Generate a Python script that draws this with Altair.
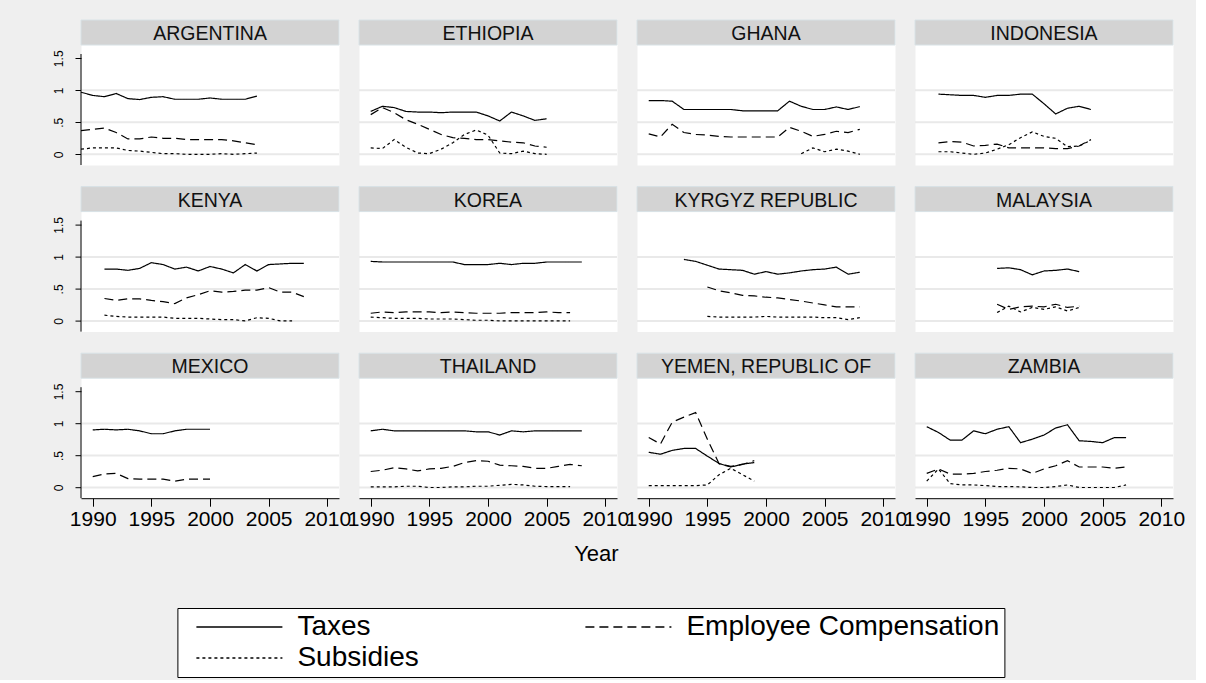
import altair as alt
import pandas as pd

COUNTRIES = [
    "ARGENTINA", "ETHIOPIA", "GHANA", "INDONESIA",
    "KENYA", "KOREA", "KYRGYZ REPUBLIC", "MALAYSIA",
    "MEXICO", "THAILAND", "YEMEN, REPUBLIC OF", "ZAMBIA",
]
SERIES = ["Taxes", "Employee Compensation", "Subsidies"]
X_TICKS = [1990, 1995, 2000, 2005, 2010]
Y_TICKS = [0, 0.5, 1, 1.5]
GRID_VALUES = [0, 0.5, 1]

# (first year, annual values)
TAXES = {
    "ARGENTINA": (1989, [0.97, 0.92, 0.90, 0.95, 0.87, 0.855, 0.89, 0.90, 0.86, 0.86, 0.86, 0.88, 0.86, 0.86, 0.86, 0.91]),
    "ETHIOPIA": (1990, [0.67, 0.75, 0.73, 0.67, 0.66, 0.66, 0.65, 0.66, 0.66, 0.66, 0.60, 0.52, 0.66, 0.60, 0.53, 0.555]),
    "GHANA": (1990, [0.84, 0.84, 0.83, 0.70, 0.70, 0.70, 0.70, 0.70, 0.68, 0.68, 0.68, 0.68, 0.83, 0.75, 0.70, 0.70, 0.74, 0.70, 0.745]),
    "INDONESIA": (1991, [0.94, 0.93, 0.92, 0.92, 0.89, 0.92, 0.92, 0.94, 0.94, 0.79, 0.63, 0.72, 0.75, 0.70]),
    "KENYA": (1991, [0.81, 0.81, 0.79, 0.82, 0.91, 0.88, 0.81, 0.84, 0.78, 0.85, 0.81, 0.75, 0.88, 0.78, 0.88, 0.89, 0.90, 0.90]),
    "KOREA": (1990, [0.93, 0.92, 0.92, 0.92, 0.92, 0.92, 0.92, 0.92, 0.88, 0.88, 0.88, 0.90, 0.88, 0.90, 0.90, 0.92, 0.92, 0.92, 0.92]),
    "KYRGYZ REPUBLIC": (1993, [0.96, 0.93, 0.87, 0.81, 0.80, 0.79, 0.73, 0.77, 0.73, 0.75, 0.78, 0.80, 0.81, 0.84, 0.73, 0.76]),
    "MALAYSIA": (1996, [0.82, 0.83, 0.80, 0.72, 0.78, 0.79, 0.81, 0.77]),
    "MEXICO": (1990, [0.90, 0.91, 0.90, 0.91, 0.885, 0.84, 0.84, 0.885, 0.91, 0.91, 0.91]),
    "THAILAND": (1990, [0.885, 0.91, 0.885, 0.885, 0.885, 0.885, 0.885, 0.885, 0.885, 0.87, 0.87, 0.82, 0.885, 0.87, 0.885, 0.885, 0.885, 0.885, 0.885]),
    "YEMEN, REPUBLIC OF": (1990, [0.55, 0.52, 0.58, 0.61, 0.61, 0.49, 0.375, 0.32, 0.365, 0.39]),
    "ZAMBIA": (1990, [0.95, 0.86, 0.74, 0.74, 0.885, 0.84, 0.91, 0.95, 0.70, 0.755, 0.82, 0.93, 0.98, 0.73, 0.72, 0.70, 0.78, 0.78]),
}

EMPLOYEE_COMPENSATION = {
    "ARGENTINA": (1989, [0.37, 0.39, 0.41, 0.34, 0.24, 0.24, 0.27, 0.25, 0.25, 0.23, 0.23, 0.23, 0.23, 0.21, 0.18, 0.15]),
    "ETHIOPIA": (1990, [0.62, 0.73, 0.65, 0.54, 0.47, 0.39, 0.31, 0.26, 0.25, 0.23, 0.23, 0.21, 0.19, 0.18, 0.13, 0.11]),
    "GHANA": (1990, [0.32, 0.27, 0.47, 0.34, 0.31, 0.30, 0.28, 0.27, 0.27, 0.27, 0.27, 0.27, 0.42, 0.36, 0.28, 0.31, 0.36, 0.34, 0.39]),
    "INDONESIA": (1991, [0.18, 0.20, 0.19, 0.13, 0.14, 0.16, 0.10, 0.10, 0.10, 0.10, 0.09, 0.09, 0.13, 0.23]),
    "KENYA": (1991, [0.35, 0.32, 0.345, 0.345, 0.32, 0.30, 0.27, 0.36, 0.41, 0.47, 0.45, 0.46, 0.48, 0.48, 0.52, 0.45, 0.45, 0.38]),
    "KOREA": (1990, [0.12, 0.14, 0.13, 0.14, 0.14, 0.14, 0.13, 0.14, 0.13, 0.12, 0.12, 0.12, 0.13, 0.13, 0.13, 0.14, 0.13, 0.13]),
    "KYRGYZ REPUBLIC": (1995, [0.53, 0.47, 0.44, 0.40, 0.39, 0.37, 0.36, 0.335, 0.31, 0.28, 0.25, 0.22, 0.22, 0.22]),
    "MALAYSIA": (1996, [0.26, 0.18, 0.22, 0.23, 0.22, 0.26, 0.21, 0.23]),
    "MEXICO": (1990, [0.17, 0.21, 0.22, 0.14, 0.13, 0.13, 0.13, 0.10, 0.13, 0.13, 0.13]),
    "THAILAND": (1990, [0.25, 0.27, 0.31, 0.29, 0.26, 0.29, 0.30, 0.33, 0.39, 0.42, 0.41, 0.35, 0.34, 0.33, 0.30, 0.30, 0.33, 0.36, 0.34]),
    "YEMEN, REPUBLIC OF": (1990, [0.78, 0.68, 1.02, 1.10, 1.17, 0.755, 0.37, 0.33, 0.36, 0.42]),
    "ZAMBIA": (1990, [0.22, 0.29, 0.21, 0.21, 0.22, 0.25, 0.27, 0.30, 0.29, 0.22, 0.29, 0.34, 0.42, 0.32, 0.32, 0.32, 0.30, 0.32]),
}

SUBSIDIES = {
    "ARGENTINA": (1989, [0.08, 0.10, 0.10, 0.10, 0.06, 0.05, 0.03, 0.01, 0.01, 0.0, 0.0, 0.0, 0.01, 0.0, 0.01, 0.02]),
    "ETHIOPIA": (1990, [0.10, 0.09, 0.23, 0.11, 0.02, 0.01, 0.08, 0.18, 0.31, 0.38, 0.30, 0.02, 0.01, 0.05, 0.01, 0.0]),
    "GHANA": (2003, [0.01, 0.10, 0.04, 0.08, 0.05, 0.0]),
    "INDONESIA": (1991, [0.04, 0.04, 0.02, 0.0, 0.02, 0.08, 0.15, 0.26, 0.35, 0.28, 0.25, 0.12, 0.13, 0.22]),
    "KENYA": (1991, [0.09, 0.07, 0.06, 0.06, 0.06, 0.06, 0.04, 0.04, 0.04, 0.03, 0.02, 0.02, 0.0, 0.05, 0.04, 0.0, 0.0]),
    "KOREA": (1990, [0.06, 0.05, 0.04, 0.04, 0.04, 0.03, 0.03, 0.03, 0.02, 0.01, 0.01, 0.0, 0.0, 0.0, 0.0, 0.0, 0.0, 0.0]),
    "KYRGYZ REPUBLIC": (1995, [0.07, 0.06, 0.06, 0.06, 0.06, 0.07, 0.06, 0.06, 0.06, 0.06, 0.05, 0.05, 0.02, 0.05]),
    "MALAYSIA": (1996, [0.13, 0.23, 0.14, 0.21, 0.18, 0.22, 0.155, 0.21]),
    "THAILAND": (1990, [0.01, 0.01, 0.01, 0.02, 0.02, 0.0, 0.0, 0.01, 0.01, 0.02, 0.02, 0.035, 0.05, 0.04, 0.02, 0.015, 0.015, 0.015]),
    "YEMEN, REPUBLIC OF": (1990, [0.03, 0.03, 0.03, 0.03, 0.03, 0.04, 0.20, 0.30, 0.20, 0.10]),
    "ZAMBIA": (1990, [0.10, 0.29, 0.06, 0.04, 0.04, 0.03, 0.015, 0.015, 0.01, 0.0, 0.0, 0.015, 0.04, 0.0, 0.0, 0.0, 0.0, 0.04]),
}

# long table: one row per country / series / year
rows = []
for name, table in zip(SERIES, [TAXES, EMPLOYEE_COMPENSATION, SUBSIDIES]):
    for country, (start, values) in table.items():
        for i, v in enumerate(values):
            rows.append({"country": country, "year": start + i, "series": name, "value": v})
df = pd.DataFrame(rows)

# panel geometry
NCOLS = 4
PANEL_W = 258
STRIP_H = 25
PANEL_H = 145
X_DOMAIN = [1989, 2011]
Y_DOMAIN = [-0.167, 2.098]

BG = "#efefef"
STRIP = "#d3d3d3"
TICK_FONT = "Liberation Sans Narrow, Liberation Sans, Arial, sans-serif"
TEXT_FONT = "Liberation Sans, Arial, sans-serif"

PAD_LEFT = 51
PAD_TOP = 19
ORIGIN_X = 81.6   # left edge of the first panel on the page
ORIGIN_Y = 19     # top edge of the first strip on the page

# legend layout
LEG_FONT = 28
LEG_SYMBOL = 16          # nominal symbol box; the key line itself is 86 px long
LEG_KEY = 86
LEG_GAP = 15
LEG_PAD = 5
LEG_INSET = 14           # extra room left of the keys
LEG_SYM_OFFSET = LEG_KEY / 2 - LEG_FONT / 2 + LEG_INSET
LEG_LABEL_OFFSET = LEG_INSET + LEG_KEY + LEG_GAP - LEG_FONT - LEG_SYM_OFFSET
half = (LEG_KEY / 2) / (LEG_SYMBOL / 2)

legend = alt.Legend(
    title=None, orient="none",
    legendX=178 - ORIGIN_X, legendY=607 - ORIGIN_Y,
    direction="horizontal", columns=2, gridAlign="each",
    symbolType=f"M{-half:.4f},0H{half:.4f}", symbolSize=LEG_SYMBOL ** 2,
    symbolOffset=LEG_SYM_OFFSET,
    symbolStrokeWidth=1.5, symbolStrokeColor="black",
    labelFont=TEXT_FONT, labelFontSize=LEG_FONT, labelColor="black",
    labelLimit=600, labelOffset=LEG_LABEL_OFFSET,
    rowPadding=3, columnPadding=152, padding=LEG_PAD,
    strokeColor="black", fillColor="white",
)

x_scale = alt.Scale(domain=X_DOMAIN, nice=False, zero=False)
y_scale = alt.Scale(domain=Y_DOMAIN, nice=False, zero=False)
dash_scale = alt.Scale(domain=SERIES, range=[[1, 0], [9, 5], [3, 3]])

x_axis = alt.Axis(
    values=X_TICKS, format="d", title=None, grid=False,
    tickSize=8, tickColor="black", domainColor="black",
    labelFont=TICK_FONT, labelFontSize=21, labelColor="black", labelPadding=2,
    labelFlush=False, labelOverlap=False,
)
y_axis = alt.Axis(
    values=Y_TICKS, format="~g", labelExpr="datum.value == 0.5 ? '.5' : datum.label",
    title=None, grid=False, domain=False,
    tickSize=6, tickColor="black",
    labelFont=TICK_FONT, labelFontSize=12, labelColor="black",
    labelAngle=-90, labelAlign="center", labelBaseline="bottom", labelPadding=10,
    labelFlush=False, labelOverlap=False,
)


def make_panel(index, country):
    row, col = divmod(index, NCOLS)
    last_row = row == (len(COUNTRIES) - 1) // NCOLS
    first_col = col == 0
    xa = x_axis if last_row else None
    ya = y_axis if first_col else None
    label = pd.DataFrame({"country": [country]})

    grid = (
        alt.Chart(pd.DataFrame({"g": GRID_VALUES}))
        .mark_rule(color="#e9e9e9", strokeWidth=2)
        .encode(y=alt.Y("g:Q", scale=y_scale, axis=ya))
    )
    strip = alt.Chart(label).mark_rect(color=STRIP, stroke="#d8e2e6", strokeWidth=1).encode(
        x=alt.value(0), x2=alt.value(PANEL_W), y=alt.value(0), y2=alt.value(STRIP_H)
    )
    strip_text = alt.Chart(label).mark_text(
        font=TEXT_FONT, fontSize=19.5, color="#111111", baseline="alphabetic", align="center"
    ).encode(text="country:N", x=alt.value(PANEL_W / 2), y=alt.value(20))
    lines = (
        alt.Chart(df[df["country"] == country])
        .mark_line(color="black", strokeWidth=1.2)
        .encode(
            x=alt.X("year:Q", scale=x_scale, axis=xa),
            y=alt.Y("value:Q", scale=y_scale, axis=ya),
            strokeDash=alt.StrokeDash("series:N", scale=dash_scale, legend=legend),
        )
    )
    layers = [grid, strip, strip_text, lines]
    if first_col:
        layers.append(
            alt.Chart(label).mark_rule(color="black", strokeWidth=1)
            .encode(x=alt.value(0), y=alt.value(34), y2=alt.value(PANEL_H))
        )
    return alt.layer(*layers).properties(width=PANEL_W, height=PANEL_H)


panels = (
    alt.concat(
        *[make_panel(i, c) for i, c in enumerate(COUNTRIES)],
        columns=NCOLS,
        spacing={"row": 21.6, "column": 20},
        bounds="flush",
    )
    .resolve_scale(strokeDash="shared")
    .resolve_legend(strokeDash="shared")
)

year_title = (
    alt.Chart(pd.DataFrame({"label": ["Year"]}))
    .mark_text(font=TEXT_FONT, fontSize=22, color="black", align="center", baseline="alphabetic")
    .encode(text="label:N", x=alt.value(597 - ORIGIN_X), y=alt.value(30))
    .properties(width=1092, height=40,
                view=alt.ViewBackground(fill="transparent", stroke="transparent"))
)

chart = (
    alt.vconcat(panels, year_title, spacing=0)
    .properties(padding={"left": PAD_LEFT, "top": PAD_TOP, "right": 10, "bottom": 2})
    .configure(background=BG)
    .configure_view(fill="white", stroke="transparent")
)

chart.save("out.html", embed_options={"renderer": "svg", "actions": False})
